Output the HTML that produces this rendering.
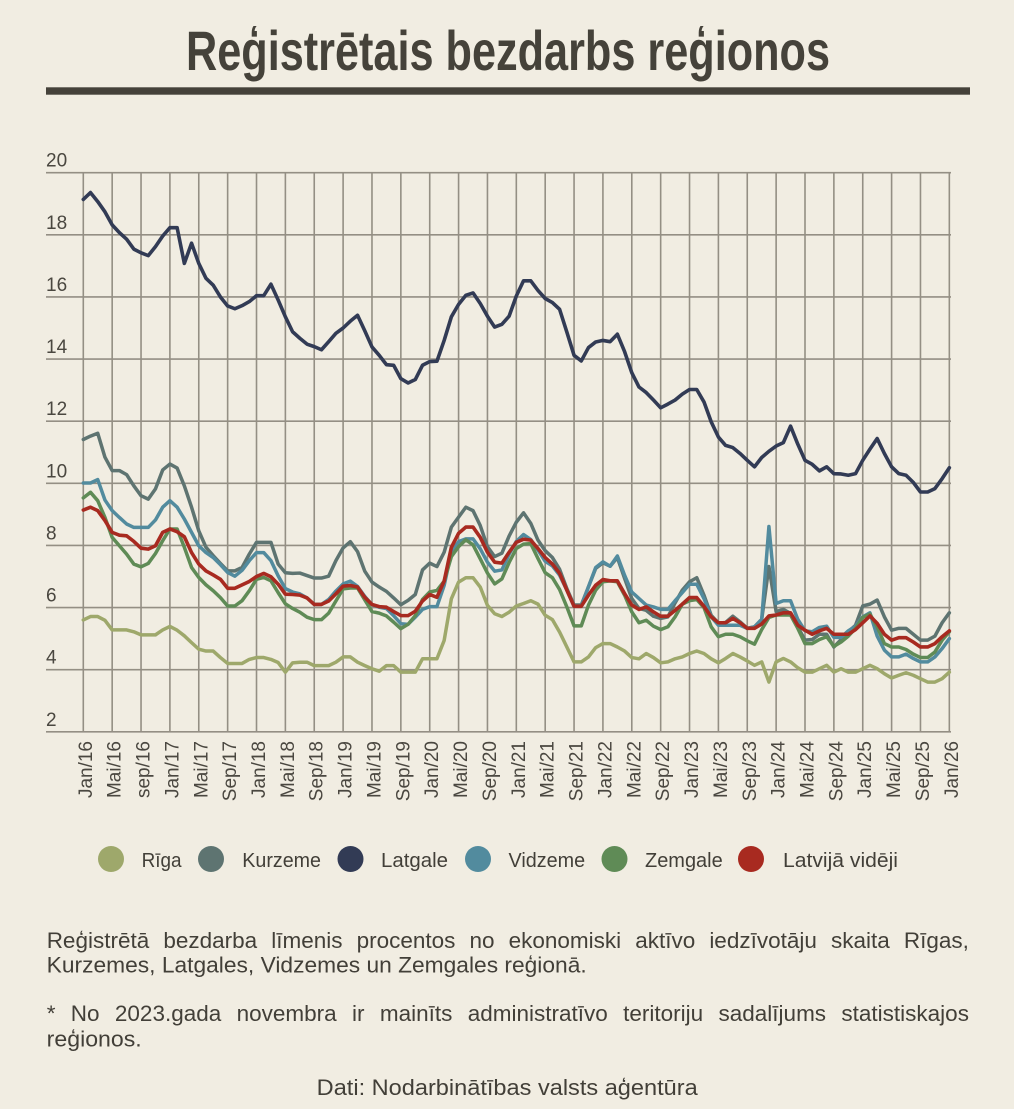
<!DOCTYPE html>
<html>
<head>
<meta charset="utf-8">
<style>
  html, body { margin:0; padding:0; }
  body { width:1014px; height:1109px; overflow:hidden; background:#f1ede2; position:relative;
         font-family:"Liberation Sans", sans-serif; color:#423f38; }
  svg { position:absolute; left:0; top:0; }
  .jl { position:absolute; left:46.7px; width:922.3px; display:flex; justify-content:space-between;
        font-size:22.5px; line-height:25px; white-space:nowrap; color:#423f38; }
</style>
</head>
<body>
<svg width="1014" height="1109" viewBox="0 0 1014 1109" xmlns="http://www.w3.org/2000/svg">
  <!-- Title -->
  <text x="186" y="70" font-family="Liberation Sans, sans-serif" font-weight="bold" font-size="56" fill="#45423a" textLength="644" lengthAdjust="spacingAndGlyphs">Reģistrētais bezdarbs reģionos</text>
  <rect x="46" y="87.3" width="924" height="7.4" fill="#45423a"/>

  <!-- Grid -->
  <g stroke="#847f74" stroke-width="1.6" fill="none" opacity="0.85">
    <path d="M46 731.78H951 M46 669.66H951 M46 607.54H951 M46 545.42H951 M46 483.3H951 M46 421.18H951 M46 359.06H951 M46 296.94H951 M46 234.82H951 M46 172.7H951"/>
    <path d="M83.3 172.7V731.8 M112.17 172.7V731.8 M141.04 172.7V731.8 M169.9 172.7V731.8 M198.77 172.7V731.8 M227.64 172.7V731.8 M256.51 172.7V731.8 M285.38 172.7V731.8 M314.24 172.7V731.8 M343.11 172.7V731.8 M371.98 172.7V731.8 M400.85 172.7V731.8 M429.72 172.7V731.8 M458.58 172.7V731.8 M487.45 172.7V731.8 M516.32 172.7V731.8 M545.19 172.7V731.8 M574.06 172.7V731.8 M602.92 172.7V731.8 M631.79 172.7V731.8 M660.66 172.7V731.8 M689.53 172.7V731.8 M718.4 172.7V731.8 M747.26 172.7V731.8 M776.13 172.7V731.8 M805 172.7V731.8 M833.87 172.7V731.8 M862.74 172.7V731.8 M891.6 172.7V731.8 M920.47 172.7V731.8 M949.34 172.7V731.8"/>
  </g>

  <!-- Y labels -->
  <g font-family="Liberation Sans, sans-serif" font-size="19" fill="#4a4740">
    <text x="46" y="166.7">20</text>
    <text x="46" y="228.8">18</text>
    <text x="46" y="290.9">16</text>
    <text x="46" y="353.1">14</text>
    <text x="46" y="415.2">12</text>
    <text x="46" y="477.3">10</text>
    <text x="46" y="539.4">8</text>
    <text x="46" y="601.5">6</text>
    <text x="46" y="663.7">4</text>
    <text x="46" y="725.8">2</text>
  </g>

  <!-- X labels -->
  <g font-family="Liberation Sans, sans-serif" font-size="19" fill="#4a4740" text-anchor="end">
    <text transform="translate(91.8,741) rotate(-90)">Jan/16</text>
    <text transform="translate(120.67,741) rotate(-90)">Mai/16</text>
    <text transform="translate(149.54,741) rotate(-90)">sep/16</text>
    <text transform="translate(178.4,741) rotate(-90)">Jan/17</text>
    <text transform="translate(207.27,741) rotate(-90)">Mai/17</text>
    <text transform="translate(236.14,741) rotate(-90)">Sep/17</text>
    <text transform="translate(265.01,741) rotate(-90)">Jan/18</text>
    <text transform="translate(293.88,741) rotate(-90)">Mai/18</text>
    <text transform="translate(322.74,741) rotate(-90)">Sep/18</text>
    <text transform="translate(351.61,741) rotate(-90)">Jan/19</text>
    <text transform="translate(380.48,741) rotate(-90)">Mai/19</text>
    <text transform="translate(409.35,741) rotate(-90)">Sep/19</text>
    <text transform="translate(438.22,741) rotate(-90)">Jan/20</text>
    <text transform="translate(467.08,741) rotate(-90)">Mai/20</text>
    <text transform="translate(495.95,741) rotate(-90)">Sep/20</text>
    <text transform="translate(524.82,741) rotate(-90)">Jan/21</text>
    <text transform="translate(553.69,741) rotate(-90)">Mai/21</text>
    <text transform="translate(582.56,741) rotate(-90)">Sep/21</text>
    <text transform="translate(611.42,741) rotate(-90)">Jan/22</text>
    <text transform="translate(640.29,741) rotate(-90)">Mai/22</text>
    <text transform="translate(669.16,741) rotate(-90)">Sep/22</text>
    <text transform="translate(698.03,741) rotate(-90)">Jan/23</text>
    <text transform="translate(726.9,741) rotate(-90)">Mai/23</text>
    <text transform="translate(755.76,741) rotate(-90)">Sep/23</text>
    <text transform="translate(784.63,741) rotate(-90)">Jan/24</text>
    <text transform="translate(813.5,741) rotate(-90)">Mai/24</text>
    <text transform="translate(842.37,741) rotate(-90)">Sep/24</text>
    <text transform="translate(871.24,741) rotate(-90)">Jan/25</text>
    <text transform="translate(900.1,741) rotate(-90)">Mai/25</text>
    <text transform="translate(928.97,741) rotate(-90)">Sep/25</text>
    <text transform="translate(957.84,741) rotate(-90)">Jan/26</text>
  </g>

  <!-- Series -->
  <g transform="matrix(7.217,0,0,-31.06,83.3,793.9)" fill="none" stroke-linejoin="round" stroke-linecap="round">
    <!-- Riga -->
    <polyline vector-effect="non-scaling-stroke" stroke="#9ea86b" stroke-width="3.5" points="0,5.6 1,5.71 2,5.71 3,5.59 4,5.28 5,5.28 6,5.28 7,5.22 8,5.12 9,5.12 10,5.12 11,5.28 12,5.39 13,5.27 14,5.09 15,4.87 16,4.66 17,4.6 18,4.6 19,4.39 20,4.2 21,4.2 22,4.2 23,4.33 24,4.39 25,4.39 26,4.33 27,4.23 28,3.92 29,4.22 30,4.24 31,4.24 32,4.13 33,4.13 34,4.13 35,4.24 36,4.41 37,4.41 38,4.24 39,4.13 40,4.03 41,3.95 42,4.13 43,4.13 44,3.92 45,3.92 46,3.92 47,4.35 48,4.35 49,4.35 50,4.94 51,6.28 52,6.82 53,6.96 54,6.96 55,6.66 56,6.07 57,5.8 58,5.71 59,5.85 60,6.05 61,6.13 62,6.22 63,6.11 64,5.75 65,5.61 66,5.21 67,4.73 68,4.25 69,4.25 70,4.41 71,4.71 72,4.84 73,4.84 74,4.73 75,4.6 76,4.39 77,4.35 78,4.52 79,4.39 80,4.22 81,4.25 82,4.35 83,4.41 84,4.52 85,4.6 86,4.52 87,4.35 88,4.22 89,4.36 90,4.52 91,4.41 92,4.28 93,4.14 94,4.25 95,3.6 96,4.25 97,4.36 98,4.25 99,4.06 100,3.92 101,3.92 102,4.03 103,4.14 104,3.92 105,4.03 106,3.92 107,3.92 108,4.03 109,4.14 110,4.03 111,3.87 112,3.73 113,3.82 114,3.9 115,3.82 116,3.71 117,3.6 118,3.6 119,3.71 120,3.92"/>
    <!-- Kurzeme -->
    <polyline vector-effect="non-scaling-stroke" stroke="#5e7471" stroke-width="3.5" points="0,11.41 1,11.52 2,11.61 3,10.84 4,10.41 5,10.41 6,10.28 7,9.92 8,9.6 9,9.49 10,9.82 11,10.43 12,10.62 13,10.49 14,9.92 15,9.23 16,8.47 17,7.94 18,7.67 19,7.42 20,7.18 21,7.18 22,7.29 23,7.72 24,8.1 25,8.1 26,8.1 27,7.4 28,7.12 29,7.1 30,7.11 31,7.03 32,6.95 33,6.95 34,7.01 35,7.51 36,7.92 37,8.12 38,7.8 39,7.17 40,6.82 41,6.66 42,6.52 43,6.31 44,6.09 45,6.23 46,6.42 47,7.21 48,7.43 49,7.32 50,7.78 51,8.59 52,8.91 53,9.23 54,9.12 55,8.64 56,7.96 57,7.64 58,7.75 59,8.3 60,8.75 61,9.05 62,8.71 63,8.17 64,7.83 65,7.61 66,7.23 67,6.61 68,6.08 69,6.08 70,6.67 71,7.26 72,7.44 73,7.33 74,7.61 75,6.94 76,6.29 77,5.97 78,5.91 79,5.72 80,5.65 81,5.7 82,6.15 83,6.56 84,6.83 85,6.96 86,6.4 87,5.75 88,5.5 89,5.52 90,5.72 91,5.54 92,5.33 93,5.38 94,5.62 95,7.32 96,5.87 97,5.94 98,5.81 99,5.38 100,4.95 101,4.97 102,5.14 103,5.14 104,4.73 105,4.97 106,5.22 107,5.43 108,6.05 109,6.11 110,6.24 111,5.7 112,5.27 113,5.33 114,5.33 115,5.14 116,4.95 117,4.95 118,5.08 119,5.51 120,5.83"/>
    <!-- Latgale -->
    <polyline vector-effect="non-scaling-stroke" stroke="#323b55" stroke-width="3.6" points="0,19.14 1,19.36 2,19.07 3,18.74 4,18.32 5,18.07 6,17.86 7,17.54 8,17.42 9,17.33 10,17.62 11,17.96 12,18.23 13,18.23 14,17.08 15,17.73 16,17.08 17,16.6 18,16.38 19,16.0 20,15.71 21,15.62 22,15.72 23,15.85 24,16.04 25,16.04 26,16.41 27,15.9 28,15.36 29,14.88 30,14.67 31,14.48 32,14.4 33,14.3 34,14.56 35,14.83 36,15.0 37,15.22 38,15.41 39,14.91 40,14.39 41,14.12 42,13.82 43,13.8 44,13.37 45,13.23 46,13.34 47,13.8 48,13.92 49,13.93 50,14.6 51,15.36 52,15.76 53,16.05 54,16.13 55,15.79 56,15.38 57,15.03 58,15.12 59,15.38 60,16.03 61,16.52 62,16.52 63,16.21 64,15.95 65,15.82 66,15.6 67,14.87 68,14.12 69,13.94 70,14.37 71,14.55 72,14.6 73,14.56 74,14.8 75,14.24 76,13.56 77,13.1 78,12.92 79,12.68 80,12.43 81,12.55 82,12.68 83,12.87 84,13.02 85,13.02 86,12.62 87,11.98 88,11.49 89,11.22 90,11.15 91,10.96 92,10.74 93,10.53 94,10.83 95,11.03 96,11.2 97,11.31 98,11.84 99,11.26 100,10.74 101,10.61 102,10.4 103,10.53 104,10.31 105,10.3 106,10.26 107,10.31 108,10.74 109,11.1 110,11.44 111,10.96 112,10.53 113,10.31 114,10.26 115,10.03 116,9.72 117,9.72 118,9.83 119,10.15 120,10.5"/>
    <!-- Vidzeme -->
    <polyline vector-effect="non-scaling-stroke" stroke="#528b9e" stroke-width="3.5" points="0,10.01 1,10.01 2,10.12 3,9.46 4,9.12 5,8.9 6,8.69 7,8.58 8,8.58 9,8.58 10,8.82 11,9.23 12,9.44 13,9.23 14,8.85 15,8.42 16,7.99 17,7.77 18,7.61 19,7.38 20,7.13 21,7.01 22,7.2 23,7.51 24,7.77 25,7.77 26,7.51 27,7.02 28,6.61 29,6.5 30,6.44 31,6.31 32,6.1 33,6.1 34,6.26 35,6.53 36,6.76 37,6.85 38,6.68 39,6.36 40,6.09 41,6.01 42,5.97 43,5.74 44,5.48 45,5.46 46,5.69 47,5.94 48,6.03 49,6.03 50,6.71 51,7.78 52,8.12 53,8.21 54,8.21 55,7.89 56,7.46 57,7.17 58,7.21 59,7.72 60,8.13 61,8.35 62,8.19 63,7.85 64,7.49 65,7.34 66,7.04 67,6.56 68,6.04 69,6.04 70,6.67 71,7.29 72,7.47 73,7.33 74,7.66 75,7.04 76,6.5 77,6.29 78,6.08 79,6.02 80,5.94 81,5.94 82,6.22 83,6.48 84,6.75 85,6.75 86,6.29 87,5.7 88,5.43 89,5.43 90,5.43 91,5.43 92,5.33 93,5.38 94,5.62 95,8.61 96,6.13 97,6.22 98,6.22 99,5.62 100,5.25 101,5.22 102,5.36 103,5.4 104,5.04 105,5.04 106,5.25 107,5.4 108,5.7 109,5.83 110,5.08 111,4.63 112,4.41 113,4.41 114,4.5 115,4.36 116,4.25 117,4.25 118,4.41 119,4.68 120,5.0"/>
    <!-- Zemgale -->
    <polyline vector-effect="non-scaling-stroke" stroke="#5f8b56" stroke-width="3.5" points="0,9.53 1,9.71 2,9.44 3,8.9 4,8.26 5,7.99 6,7.72 7,7.4 8,7.31 9,7.42 10,7.74 11,8.15 12,8.53 13,8.53 14,7.94 15,7.29 16,6.97 17,6.73 18,6.54 19,6.32 20,6.05 21,6.05 22,6.22 23,6.54 24,6.91 25,6.97 26,6.86 27,6.48 28,6.12 29,5.97 30,5.85 31,5.69 32,5.61 33,5.61 34,5.82 35,6.21 36,6.6 37,6.63 38,6.63 39,6.25 40,5.87 41,5.82 42,5.73 43,5.53 44,5.32 45,5.46 46,5.74 47,6.26 48,6.5 49,6.55 50,6.85 51,7.64 52,7.96 53,8.18 54,8.02 55,7.57 56,7.11 57,6.76 58,6.92 59,7.45 60,7.9 61,8.04 62,8.06 63,7.58 64,7.12 65,6.96 66,6.58 67,6.02 68,5.41 69,5.41 70,6.08 71,6.56 72,6.83 73,6.86 74,6.83 75,6.4 76,5.86 77,5.51 78,5.59 79,5.4 80,5.29 81,5.38 82,5.7 83,6.11 84,6.22 85,6.26 86,6.0 87,5.38 88,5.06 89,5.14 90,5.14 91,5.06 92,4.93 93,4.82 94,5.29 95,5.68 96,5.76 97,5.76 98,5.76 99,5.33 100,4.84 101,4.84 102,4.97 103,5.06 104,4.75 105,4.89 106,5.08 107,5.33 108,5.68 109,5.79 110,5.38 111,4.84 112,4.73 113,4.73 114,4.65 115,4.5 116,4.39 117,4.39 118,4.57 119,4.95 120,5.22"/>
    <!-- Latvija videji -->
    <polyline vector-effect="non-scaling-stroke" stroke="#a82a20" stroke-width="3.6" points="0,9.14 1,9.23 2,9.12 3,8.8 4,8.42 5,8.33 6,8.31 7,8.13 8,7.91 9,7.88 10,7.99 11,8.42 12,8.53 13,8.44 14,8.28 15,7.77 16,7.4 17,7.18 18,7.05 19,6.91 20,6.62 21,6.62 22,6.73 23,6.84 24,7.0 25,7.1 26,6.99 27,6.75 28,6.43 29,6.42 30,6.4 31,6.31 32,6.1 33,6.1 34,6.21 35,6.44 36,6.69 37,6.71 38,6.66 39,6.33 40,6.1 41,6.03 42,6.01 43,5.87 44,5.74 45,5.74 46,5.88 47,6.21 48,6.42 49,6.33 50,6.85 51,7.94 52,8.39 53,8.59 54,8.59 55,8.26 56,7.78 57,7.46 58,7.43 59,7.78 60,8.1 61,8.2 62,8.17 63,7.9 64,7.61 65,7.4 66,7.1 67,6.56 68,6.04 69,6.04 70,6.4 71,6.72 72,6.9 73,6.86 74,6.86 75,6.45 76,6.08 77,5.94 78,6.02 79,5.86 80,5.72 81,5.72 82,5.91 83,6.11 84,6.32 85,6.32 86,6.04 87,5.7 88,5.51 89,5.51 90,5.65 91,5.51 92,5.33 93,5.33 94,5.47 95,5.73 96,5.76 97,5.83 98,5.83 99,5.43 100,5.27 101,5.14 102,5.25 103,5.33 104,5.14 105,5.14 106,5.14 107,5.29 108,5.51 109,5.73 110,5.49 111,5.14 112,4.95 113,5.03 114,5.03 115,4.89 116,4.73 117,4.73 118,4.84 119,5.06 120,5.25"/>
  </g>

  <!-- Legend -->
  <g>
    <circle cx="111" cy="859" r="13" fill="#9ea86b"/>
    <circle cx="211" cy="859" r="13" fill="#5e7471"/>
    <circle cx="350.5" cy="859" r="13" fill="#323b55"/>
    <circle cx="478" cy="859" r="13" fill="#528b9e"/>
    <circle cx="614.5" cy="859" r="13" fill="#5f8b56"/>
    <circle cx="751" cy="859" r="13" fill="#a82a20"/>
  </g>
  <g font-family="Liberation Sans, sans-serif" font-size="20" fill="#423f38">
    <text x="141.6" y="867" textLength="40" lengthAdjust="spacingAndGlyphs">Rīga</text>
    <text x="242.3" y="867" textLength="78.7" lengthAdjust="spacingAndGlyphs">Kurzeme</text>
    <text x="381" y="867" textLength="67" lengthAdjust="spacingAndGlyphs">Latgale</text>
    <text x="508.5" y="867" textLength="76.6" lengthAdjust="spacingAndGlyphs">Vidzeme</text>
    <text x="645" y="867" textLength="77.7" lengthAdjust="spacingAndGlyphs">Zemgale</text>
    <text x="783" y="867" textLength="115" lengthAdjust="spacingAndGlyphs">Latvijā vidēji</text>
  </g>

  <!-- Natural (non-justified) text lines -->
  <g font-family="Liberation Sans, sans-serif" font-size="22.5" fill="#423f38">
    <text x="46.7" y="972.7" textLength="540" lengthAdjust="spacingAndGlyphs">Kurzemes, Latgales, Vidzemes un Zemgales reģionā.</text>
    <text x="46.7" y="1046.7" textLength="95" lengthAdjust="spacingAndGlyphs">reģionos.</text>
    <text x="316.7" y="1095" textLength="381" lengthAdjust="spacingAndGlyphs">Dati: Nodarbinātības valsts aģentūra</text>
  </g>
</svg>

<div class="jl" style="top:928px;"><span>Reģistrētā</span><span>bezdarba</span><span>līmenis</span><span>procentos</span><span>no</span><span>ekonomiski</span><span>aktīvo</span><span>iedzīvotāju</span><span>skaita</span><span>Rīgas,</span></div>
<div class="jl" style="top:1001.4px;"><span>*</span><span>No</span><span>2023.gada</span><span>novembra</span><span>ir</span><span>mainīts</span><span>administratīvo</span><span>teritoriju</span><span>sadalījums</span><span>statistiskajos</span></div>
</body>
</html>
